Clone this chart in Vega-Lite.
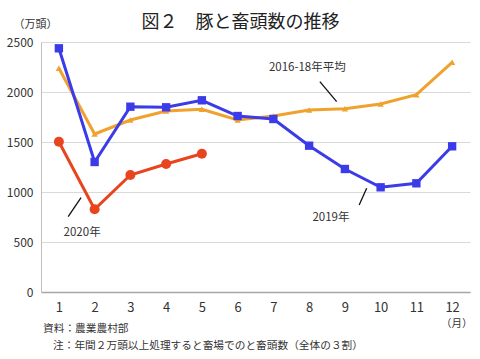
{
  "$schema": "https://vega.github.io/schema/vega-lite/v6.json",
  "width": 429,
  "height": 250,
  "autosize": {"type": "none"},
  "padding": {"left": 41, "top": 42, "right": 10, "bottom": 67},
  "background": "white",
  "config": {
    "font": "Noto Sans CJK JP",
    "view": {"stroke": null},
    "axis": {"labelColor": "#333", "titleColor": "#333", "labelFont": "Noto Sans CJK JP", "titleFont": "Noto Sans CJK JP"}
  },
  "title": {
    "text": "図２　豚と畜頭数の推移",
    "fontSize": 18,
    "fontWeight": "normal",
    "color": "#222",
    "anchor": "middle",
    "frame": "group",
    "dx": -15,
    "offset": -14
  },
  "datasets": {
    "series": [
      {"month": 1, "series": "2016-18年平均", "value": 2237},
      {"month": 2, "series": "2016-18年平均", "value": 1580},
      {"month": 3, "series": "2016-18年平均", "value": 1720},
      {"month": 4, "series": "2016-18年平均", "value": 1810},
      {"month": 5, "series": "2016-18年平均", "value": 1827},
      {"month": 6, "series": "2016-18年平均", "value": 1720},
      {"month": 7, "series": "2016-18年平均", "value": 1760},
      {"month": 8, "series": "2016-18年平均", "value": 1820},
      {"month": 9, "series": "2016-18年平均", "value": 1833},
      {"month": 10, "series": "2016-18年平均", "value": 1880},
      {"month": 11, "series": "2016-18年平均", "value": 1973},
      {"month": 12, "series": "2016-18年平均", "value": 2297},
      {"month": 1, "series": "2019年", "value": 2437},
      {"month": 2, "series": "2019年", "value": 1300},
      {"month": 3, "series": "2019年", "value": 1853},
      {"month": 4, "series": "2019年", "value": 1847},
      {"month": 5, "series": "2019年", "value": 1917},
      {"month": 6, "series": "2019年", "value": 1760},
      {"month": 7, "series": "2019年", "value": 1730},
      {"month": 8, "series": "2019年", "value": 1463},
      {"month": 9, "series": "2019年", "value": 1230},
      {"month": 10, "series": "2019年", "value": 1047},
      {"month": 11, "series": "2019年", "value": 1087},
      {"month": 12, "series": "2019年", "value": 1457},
      {"month": 1, "series": "2020年", "value": 1503},
      {"month": 2, "series": "2020年", "value": 827},
      {"month": 3, "series": "2020年", "value": 1170},
      {"month": 4, "series": "2020年", "value": 1280},
      {"month": 5, "series": "2020年", "value": 1383}
    ],
    "labels": [
      {"month": 7.95, "value": 2240, "label": "2016-18年平均"},
      {"month": 1.65, "value": 590, "label": "2020年"},
      {"month": 8.61, "value": 737, "label": "2019年"}
    ],
    "unit": [
      {"month": 12.13, "value": -322, "label": "（月）"}
    ],
    "notes": [
      {"month": 0.556, "value": -370, "label": "資料：農業農村部"},
      {"month": 0.836, "value": -540, "label": "注：年間２万頭以上処理すると畜場でのと畜頭数（全体の３割）"}
    ],
    "leaders": [
      {"month": 8.30, "value": 2103, "month2": 8.77, "value2": 1903},
      {"month": 1.62, "value": 943, "month2": 1.26, "value2": 753},
      {"month": 9.61, "value": 1037, "month2": 9.40, "value2": 870}
    ]
  },
  "encoding": {
    "x": {
      "field": "month",
      "type": "quantitative",
      "scale": {"domain": [0.5, 12.5], "nice": false, "zero": false},
      "axis": {
        "values": [1, 2, 3, 4, 5, 6, 7, 8, 9, 10, 11, 12],
        "grid": false,
        "ticks": false,
        "labelOverlap": false,
        "labelBound": false,
        "labelFontSize": 13,
        "labelPadding": 9,
        "domainColor": "#a6a6a6",
        "domainWidth": 1.5,
        "title": null
      }
    },
    "y": {
      "field": "value",
      "type": "quantitative",
      "scale": {"domain": [0, 2500], "nice": false},
      "axis": {
        "values": [0, 500, 1000, 1500, 2000, 2500],
        "format": "d",
        "grid": true,
        "gridColor": "#d9d9d9",
        "ticks": false,
        "labelOverlap": false,
        "labelFontSize": 12,
        "labelPadding": 8,
        "domainColor": "#bfbfbf",
        "title": "（万頭）",
        "titleAngle": 0,
        "titleFontSize": 11,
        "titleFontWeight": "normal",
        "titleAlign": "left",
        "titleBaseline": "middle",
        "titleX": -28,
        "titleY": -18
      }
    }
  },
  "layer": [
    {
      "data": {"name": "series"},
      "mark": {"type": "line"},
      "encoding": {
        "color": {
          "field": "series",
          "type": "nominal",
          "scale": {"domain": ["2016-18年平均", "2019年", "2020年"], "range": ["#f0a22e", "#3b3be8", "#e8451e"]},
          "legend": null
        },
        "strokeWidth": {
          "field": "series",
          "type": "nominal",
          "scale": {"domain": ["2016-18年平均", "2019年", "2020年"], "range": [3, 3, 2.5]},
          "legend": null
        }
      }
    },
    {
      "data": {"name": "series"},
      "mark": {"type": "point", "filled": true, "opacity": 1},
      "encoding": {
        "color": {"field": "series", "type": "nominal", "legend": null},
        "shape": {
          "field": "series",
          "type": "nominal",
          "scale": {"domain": ["2016-18年平均", "2019年", "2020年"], "range": ["triangle-up", "square", "circle"]},
          "legend": null
        },
        "size": {
          "field": "series",
          "type": "nominal",
          "scale": {"domain": ["2016-18年平均", "2019年", "2020年"], "range": [40, 100, 60]},
          "legend": null
        }
      }
    },
    {
      "data": {"name": "leaders"},
      "mark": {"type": "rule", "color": "#111", "strokeWidth": 1.3},
      "encoding": {
        "x2": {"field": "month2"},
        "y2": {"field": "value2"}
      }
    },
    {
      "data": {"name": "labels"},
      "mark": {"type": "text", "fontSize": 11.5, "color": "#333", "align": "center", "baseline": "middle"},
      "encoding": {
        "text": {"field": "label"}
      }
    },
    {
      "data": {"name": "unit"},
      "mark": {"type": "text", "fontSize": 10.5, "color": "#333", "align": "center", "baseline": "middle"},
      "encoding": {
        "text": {"field": "label"}
      }
    },
    {
      "data": {"name": "notes"},
      "mark": {"type": "text", "fontSize": 10.7, "color": "#333", "align": "left", "baseline": "middle"},
      "encoding": {
        "text": {"field": "label"}
      }
    }
  ]
}
